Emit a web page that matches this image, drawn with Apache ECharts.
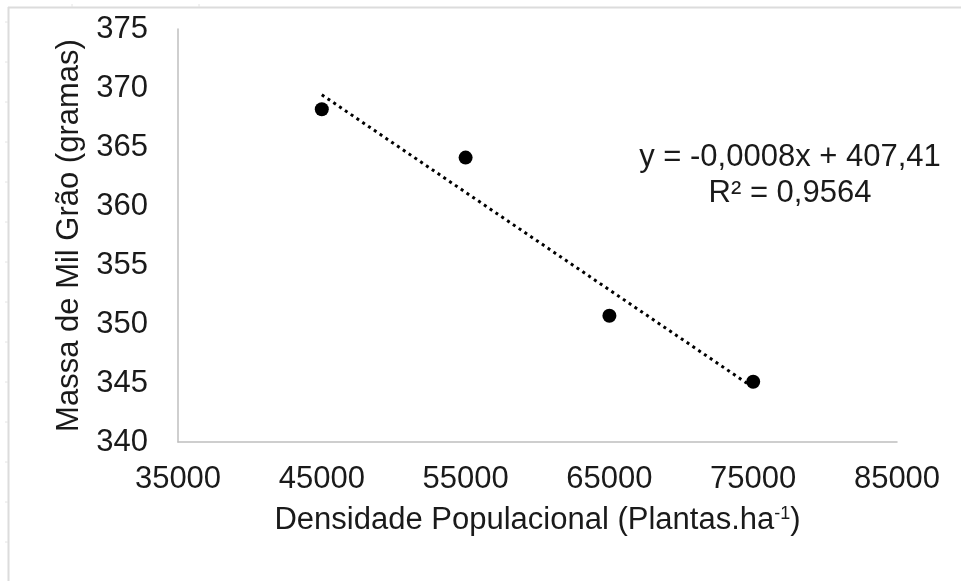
<!DOCTYPE html>
<html>
<head>
<meta charset="utf-8">
<script src="https://cdn.jsdelivr.net/npm/echarts@6/dist/echarts.min.js"></script>
<style>
  html, body { margin: 0; padding: 0; background: #fff; }
  #chart { width: 961px; height: 581px; }
</style>
</head>
<body>
<div id="chart"></div>
<script>
// densidade (plantas/ha) e massa de mil grãos (g)
var densidade = [45000, 55000, 65000, 75000];
var massa = [368.2, 364.1, 350.7, 345.1];
var xTicks = [35000, 85000, 10000]; // min, max, passo
var yTicks = [340, 375, 5];
var equacao = ["y = -0,0008x + 407,41", "R² = 0,9564"];

var FONT = "'Liberation Sans', Arial, sans-serif";
var TXT = "#1a1a1a";

// linha de tendência (mínimos quadrados) nos extremos dos dados
function tendencia(xs, ys) {
  var n = xs.length, mx = 0, my = 0;
  for (var i = 0; i < n; i++) { mx += xs[i]; my += ys[i]; }
  mx /= n; my /= n;
  var sxy = 0, sxx = 0;
  for (var j = 0; j < n; j++) {
    sxy += (xs[j] - mx) * (ys[j] - my);
    sxx += (xs[j] - mx) * (xs[j] - mx);
  }
  var b = sxy / sxx, a = my - b * mx;
  var x0 = Math.min.apply(null, xs), x1 = Math.max.apply(null, xs);
  return [[x0, a + b * x0], [x1, a + b * x1]];
}

var pontos = densidade.map(function (d, i) { return [d, massa[i]]; });

// moldura cinza da planilha (decoração)
var moldura = [
  { type: "line", shape: { x1: 8, y1: 7.5, x2: 961, y2: 7.5 }, style: { stroke: "#dcdcdc", lineWidth: 2 } },
  { type: "line", shape: { x1: 8.5, y1: 7, x2: 8.5, y2: 581 }, style: { stroke: "#dcdcdc", lineWidth: 2 } }
];
for (var t = 22; t < 581; t += 40) {
  moldura.push({ type: "line", shape: { x1: 5, y1: t, x2: 8, y2: t }, style: { stroke: "#e4e4e4", lineWidth: 1 } });
}
[72, 199].forEach(function (x) {
  moldura.push({ type: "line", shape: { x1: x, y1: 4, x2: x, y2: 7 }, style: { stroke: "#e4e4e4", lineWidth: 1 } });
});

var chart = echarts.init(document.getElementById("chart"));
chart.setOption({
  animation: false,
  textStyle: { fontFamily: FONT },
  grid: { left: 178, right: 64, top: 29, bottom: 139 },
  xAxis: {
    type: "value",
    min: xTicks[0], max: xTicks[1], interval: xTicks[2],
    name: "Densidade Populacional (Plantas.ha{sup|-1})",
    nameLocation: "middle",
    nameGap: 63,
    nameTextStyle: {
      fontSize: 31, color: TXT, fontFamily: FONT,
      rich: { sup: { fontSize: 18, color: TXT, fontFamily: FONT, verticalAlign: "top", padding: [0, 0, 12, 0] } }
    },
    axisLine: { lineStyle: { color: "#bfbfbf", width: 1.5 } },
    axisTick: { show: false },
    splitLine: { show: false },
    axisLabel: {
      fontSize: 31, color: TXT, margin: 22, fontFamily: FONT,
      formatter: function (v) { return String(v); }
    }
  },
  yAxis: {
    type: "value",
    min: yTicks[0], max: yTicks[1], interval: yTicks[2],
    name: "Massa de Mil Grão (gramas)",
    nameLocation: "middle",
    nameRotate: 90,
    nameGap: 92,
    nameTextStyle: { fontSize: 31, color: TXT, fontFamily: FONT },
    axisLine: { show: true, lineStyle: { color: "#bfbfbf", width: 1.5 } },
    axisTick: { show: false },
    splitLine: { show: false },
    axisLabel: { fontSize: 31, color: TXT, margin: 30, fontFamily: FONT }
  },
  series: [
    {
      type: "line",
      data: tendencia(densidade, massa),
      symbol: "none",
      lineStyle: { color: "#000", width: 3, type: [3, 4] },
      z: 2
    },
    {
      type: "scatter",
      data: pontos,
      symbolSize: 14,
      itemStyle: { color: "#000", opacity: 1 },
      z: 3
    }
  ],
  graphic: moldura.concat([
    {
      type: "text",
      x: 790, y: 139,
      style: {
        text: equacao.join("\n"),
        font: "31px " + FONT,
        fill: TXT,
        align: "center",
        verticalAlign: "top",
        lineHeight: 36
      }
    }
  ])
});
</script>
</body>
</html>
